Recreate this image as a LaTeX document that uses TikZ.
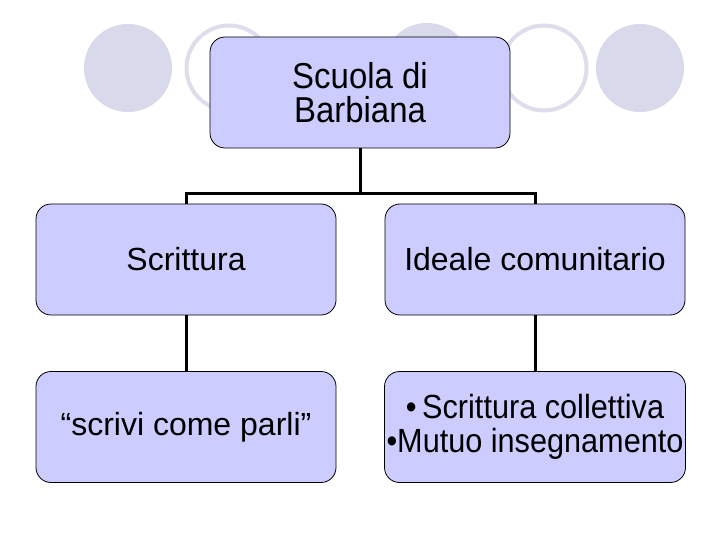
\documentclass[tikz,border=0pt]{standalone}
\usepackage{fontspec}
\setmainfont{Liberation Sans}
\newfontfamily\narrowfont[FakeStretch=0.915]{Liberation Sans}
\definecolor{boxfill}{RGB}{204,204,255}
\definecolor{circfill}{RGB}{217,217,236}
\definecolor{ringcol}{RGB}{221,221,236}
\tikzset{
  orgbox/.style={draw=black, line width=0.8pt, fill=boxfill, rounded corners=15pt,
    minimum width=300pt, minimum height=111pt, inner sep=2pt, align=center,
    font=\fontsize{32}{38}\selectfont},
  tallbox/.style={orgbox, font=\narrowfont\fontsize{36}{34}\selectfont},
  tallsmall/.style={orgbox, font=\narrowfont\fontsize{33.5}{34}\selectfont},
  disc/.style={fill=circfill, draw=none},
  ring/.style={draw=ringcol, line width=4pt, fill=none},
  conn/.style={draw=black, line width=3pt, line join=miter}
}
\begin{document}
\begin{tikzpicture}[x=1pt,y=-1pt]
\useasboundingbox (0,0) rectangle (720,540);
\fill[white] (0,0) rectangle (720,540);
% decorative circles
\path[disc] (128,68) circle[radius=44pt];
\path[ring] (229,68) circle[radius=42.5pt];
\path[disc] (427,67) circle[radius=44pt];
\path[ring] (544,68) circle[radius=42.5pt];
\path[disc] (640,68) circle[radius=44pt];
% boxes
\node[tallbox] (t) at (360,92.5) {Scuola di\\Barbiana};
\node[orgbox] (a) at (186,259.5) {Scrittura};
\node[orgbox] (b) at (535,259.5) {Ideale comunitario};
\node[orgbox] (c) at (186,427) {“scrivi come parli”};
\node[tallsmall] (d) at (535,427) {•\,Scrittura collettiva\\•Mutuo insegnamento};
% connectors
\coordinate (j) at (360,194);
\draw[conn] (t.south) -- (j);
\draw[conn] (a.north) |- (j) -| (b.north);
\draw[conn] (a.south) -- (c.north);
\draw[conn] (b.south) -- (d.north);
\end{tikzpicture}
\end{document}
